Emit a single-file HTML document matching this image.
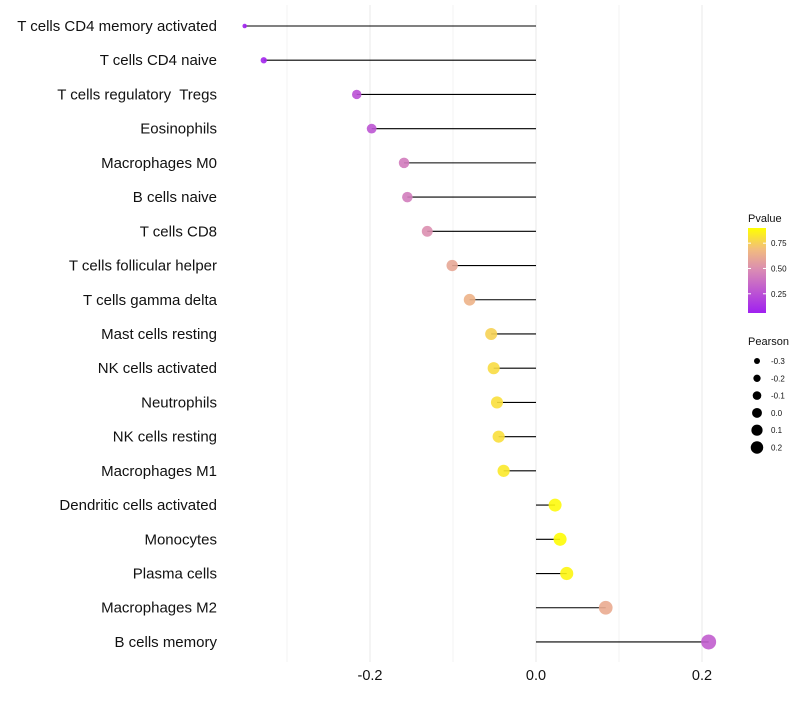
<!DOCTYPE html>
<html><head><meta charset="utf-8"><style>
body{margin:0;background:#fff;font-family:"Liberation Sans",sans-serif}
</style></head><body>
<svg id="c" width="800" height="700" xmlns="http://www.w3.org/2000/svg">
<defs><linearGradient id="pg" x1="0" y1="1" x2="0" y2="0">
<stop offset="0" stop-color="#A020F0"/><stop offset="0.5" stop-color="#D98AB5"/><stop offset="0.75" stop-color="#F2BC7E"/><stop offset="1" stop-color="#FFFF00"/></linearGradient></defs>
</svg>
<script>
const cells=["T cells CD4 memory activated","T cells CD4 naive","T cells regulatory  Tregs","Eosinophils","Macrophages M0","B cells naive","T cells CD8","T cells follicular helper","T cells gamma delta","Mast cells resting","NK cells activated","Neutrophils","NK cells resting","Macrophages M1","Dendritic cells activated","Monocytes","Plasma cells","Macrophages M2","B cells memory"];
const pearson=[-0.351,-0.328,-0.216,-0.198,-0.159,-0.155,-0.131,-0.101,-0.080,-0.054,-0.051,-0.047,-0.045,-0.039,0.023,0.029,0.037,0.084,0.208];
const pvalue=[0.06,0.08,0.25,0.27,0.42,0.43,0.5,0.6,0.65,0.76,0.79,0.8,0.8,0.83,0.88,0.89,0.87,0.62,0.3];
const xTicks=[-0.2,0.0,0.2];
const xGrid=[-0.3,-0.1,0.1];
const legP=[0.75,0.50,0.25];
const legR=[-0.3,-0.2,-0.1,0.0,0.1,0.2];
const svg=document.getElementById('c');const NS="http://www.w3.org/2000/svg";
const X=v=>536+v*830;const Y=i=>26+i*34.22;
const R=v=>2+5.5*Math.sqrt(Math.max(0,(v+0.352)/0.56));
function lerp(a,b,t){return a.map((x,i)=>Math.round(x+(b[i]-x)*t));}
function col(p){const stops=[[0.06,[160,32,240]],[0.48,[217,138,181]],[0.69,[242,188,126]],[0.9,[255,255,0]]];
if(p<=stops[0][0])return 'rgb('+stops[0][1]+')';
for(let i=1;i<stops.length;i++){if(p<=stops[i][0]){const t=(p-stops[i-1][0])/(stops[i][0]-stops[i-1][0]);return 'rgb('+lerp(stops[i-1][1],stops[i][1],t)+')';}}
return 'rgb(255,255,0)';}
function mk(t,a,txt){const e=document.createElementNS(NS,t);for(const k in a)e.setAttribute(k,a[k]);if(txt!==undefined)e.textContent=txt;svg.appendChild(e);return e;}
[...xGrid,...xTicks].forEach(v=>{const g=mk('line',{x1:X(v),x2:X(v),y1:5,y2:662,stroke:'#ebebeb','stroke-width':xTicks.includes(v)?1.1:0.6});

});
xTicks.forEach(v=>{const t=mk('text',{x:X(v),y:680,'text-anchor':'middle','font-size':14.5,fill:'#111'},v.toFixed(1));

});
cells.forEach((c,i)=>{const y=Y(i);
const l=mk('text',{x:217,y:y+5,'text-anchor':'end','font-size':15,fill:'#111',style:'white-space:pre'},c);


const s=mk('line',{x1:X(0),x2:X(pearson[i]),y1:y,y2:y,stroke:'#000','stroke-width':1.1});


const p=mk('circle',{cx:X(pearson[i]),cy:y,r:R(pearson[i]),fill:col(pvalue[i]),'fill-opacity':0.9});

});
const lt=mk('text',{x:748,y:222,'font-size':11,fill:'#111'},'Pvalue');


const cb=mk('rect',{x:748,y:228,width:18,height:85,fill:'url(#pg)'});


legP.forEach(v=>{const y=313-(v-0.06)/0.84*85;
mk('line',{x1:748,x2:751,y1:y,y2:y,stroke:'#fff'});mk('line',{x1:763,x2:766,y1:y,y2:y,stroke:'#fff'});
const t=mk('text',{x:771,y:y+3,'font-size':8,fill:'#111'},v.toFixed(2));

});
const st=mk('text',{x:748,y:345,'font-size':11,fill:'#111'},'Pearson');


legR.forEach((v,i)=>{const y=361+i*17.3;
const c=mk('circle',{cx:757,cy:y,r:3+i*0.65,fill:'#000'});


const t=mk('text',{x:771,y:y+3,'font-size':8,fill:'#111'},v.toFixed(1));

});
</script>
</body></html>
